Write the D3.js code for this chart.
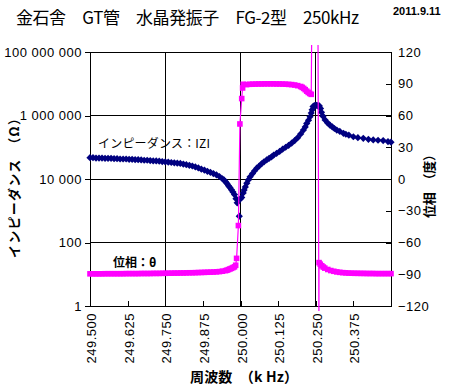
<!DOCTYPE html>
<html>
<head>
<meta charset="utf-8">
<script src="https://cdn.jsdelivr.net/npm/d3@7"></script>
<style>
  body { margin: 0; background: #fff; }
  text { font-family: "Liberation Sans", Arial, sans-serif; }
  .jp { font-family: "Noto Sans CJK JP", sans-serif; }
</style>
</head>
<body>
<div id="container"></div>
<script>
// impedance |Z| (ohm) vs frequency (kHz)
const freqZ = [
  249.50, 249.51, 249.52, 249.53, 249.54, 249.55, 249.56, 249.57, 249.58, 249.59,
  249.60, 249.61, 249.62, 249.63, 249.64, 249.65, 249.66, 249.67, 249.68, 249.69,
  249.70, 249.71, 249.72, 249.73, 249.74, 249.75, 249.76, 249.77, 249.78, 249.79,
  249.80, 249.81, 249.82, 249.83, 249.84, 249.85, 249.86, 249.87, 249.88, 249.89,
  249.90, 249.91, 249.92, 249.93, 249.94, 249.945, 249.95, 249.955, 249.96, 249.965,
  249.97, 249.975, 249.98, 249.985, 249.989, 249.996, 249.999, 250.004, 250.009, 250.012,
  250.016, 250.021, 250.026, 250.032, 250.04, 250.047, 250.054, 250.062, 250.07, 250.078,
  250.087, 250.095, 250.103, 250.11, 250.12, 250.13, 250.14, 250.15, 250.16, 250.17,
  250.18, 250.19, 250.20, 250.209, 250.215, 250.22, 250.226, 250.231, 250.235, 250.238,
  250.241, 250.245, 250.249, 250.253, 250.257, 250.262, 250.266, 250.269, 250.274, 250.281,
  250.289, 250.297, 250.305, 250.312, 250.32, 250.33, 250.342, 250.35, 250.36, 250.375,
  250.39, 250.408, 250.425, 250.441, 250.457, 250.474, 250.49, 250.50
];
const impedance = [
  4.68e4, 4.68e4, 4.57e4, 4.57e4, 4.57e4, 4.47e4, 4.47e4, 4.47e4, 4.37e4, 4.37e4,
  4.27e4, 4.27e4, 4.27e4, 4.17e4, 4.17e4, 4.07e4, 4.07e4, 3.98e4, 3.89e4, 3.89e4,
  3.80e4, 3.72e4, 3.72e4, 3.63e4, 3.55e4, 3.47e4, 3.39e4, 3.31e4, 3.24e4, 3.16e4,
  3.09e4, 2.95e4, 2.82e4, 2.69e4, 2.57e4, 2.40e4, 2.24e4, 2.04e4, 1.91e4, 1.74e4,
  1.62e4, 1.48e4, 1.35e4, 1.20e4, 1.02e4, 9.33e3, 8.32e3, 7.24e3, 6.17e3, 5.37e3,
  4.57e3, 3.89e3, 3.24e3, 2.40e3, 1.78e3, 6.76e2, 2.34e3, 2.63e3, 3.63e3, 4.47e3,
  5.62e3, 7.41e3, 9.33e3, 1.17e4, 1.48e4, 1.82e4, 2.19e4, 2.57e4, 3.02e4, 3.47e4,
  3.98e4, 4.47e4, 5.01e4, 5.62e4, 6.46e4, 7.41e4, 8.71e4, 1.00e5, 1.15e5, 1.35e5,
  1.62e5, 2.00e5, 2.63e5, 3.47e5, 4.37e5, 5.62e5, 7.08e5, 9.12e5, 1.20e6, 1.51e6,
  1.91e6, 2.04e6, 2.09e6, 2.09e6, 2.04e6, 2.00e6, 1.66e6, 1.26e6, 9.55e5, 7.24e5,
  5.89e5, 5.01e5, 4.37e5, 3.89e5, 3.47e5, 3.16e5, 2.75e5, 2.57e5, 2.40e5, 2.14e5,
  2.00e5, 1.91e5, 1.78e5, 1.70e5, 1.66e5, 1.62e5, 1.51e5, 1.45e5
];

// phase (deg) vs frequency (kHz)
const freqPhase = [
  249.50, 249.51, 249.52, 249.53, 249.54, 249.55, 249.56, 249.57, 249.58, 249.59,
  249.60, 249.61, 249.62, 249.63, 249.64, 249.65, 249.66, 249.67, 249.68, 249.69,
  249.70, 249.71, 249.72, 249.73, 249.74, 249.75, 249.76, 249.77, 249.78, 249.79,
  249.80, 249.81, 249.82, 249.83, 249.84, 249.85, 249.86, 249.87, 249.88, 249.89,
  249.90, 249.91, 249.92, 249.93, 249.94, 249.95, 249.955, 249.96, 249.965, 249.97,
  249.975, 249.98, 249.984, 249.987, 249.993, 249.998, 250.004, 250.007, 250.009, 250.02,
  250.03, 250.04, 250.05, 250.06, 250.07, 250.08, 250.09, 250.10, 250.11, 250.12,
  250.13, 250.14, 250.15, 250.16, 250.17, 250.18, 250.19, 250.20, 250.205, 250.21,
  250.215, 250.22, 250.225, 250.23, 250.235, 250.2365, 250.2575, 250.2605, 250.261, 250.265,
  250.27, 250.275, 250.28, 250.29, 250.30, 250.31, 250.32, 250.33, 250.34, 250.35,
  250.36, 250.37, 250.38, 250.39, 250.40, 250.41, 250.42, 250.43, 250.44, 250.45,
  250.46, 250.47, 250.48, 250.49, 250.50
];
const phase = [
  -89.6, -89.6, -89.6, -89.6, -89.6, -89.5, -89.5, -89.5, -89.5, -89.5,
  -89.5, -89.5, -89.4, -89.4, -89.4, -89.4, -89.4, -89.3, -89.3, -89.3,
  -89.3, -89.2, -89.2, -89.2, -89.1, -89.1, -89.0, -89.0, -88.9, -88.9,
  -88.8, -88.8, -88.7, -88.6, -88.6, -88.5, -88.4, -88.3, -88.2, -88.1,
  -88.0, -87.9, -87.7, -87.5, -87.1, -86.6, -86.2, -85.6, -85.0, -84.4,
  -83.7, -83.0, -81.5, -75, -44, 52, 76, 86, 89.5, 89.2,
  89.5, 89.6, 89.7, 89.8, 89.8, 89.9, 89.9, 89.9, 89.9, 89.8,
  89.8, 89.7, 89.6, 89.4, 89.2, 88.8, 88.2, 87.4, 86.6, 85.6,
  84.4, 83.0, 81.8, 80.8, 80.0, 135, 135, -135, -79, -80.5,
  -82, -83.2, -84.2, -85.5, -86.5, -87.2, -87.8, -88.2, -88.5, -88.7,
  -88.9, -89.0, -89.1, -89.1, -89.2, -89.2, -89.3, -89.3, -89.3, -89.4,
  -89.4, -89.4, -89.4, -89.4, -89.4
];

const zTicks = [1, 100, 10000, 1000000, 100000000];
const zTickLabels = ["1", "100", "10 000", "1 000 000", "100 000 000"];
const phaseTicks = [-120, -90, -60, -30, 0, 30, 60, 90, 120];
const freqTicks = [249.5, 249.625, 249.75, 249.875, 250.0, 250.125, 250.25, 250.375, 250.5];
const freqTickLabels = ["249.500", "249.625", "249.750", "249.875", "250.000", "250.125", "250.250", "250.375", ""];
const zGrid = [100, 10000, 1000000];
const freqGrid = [249.75, 250.0, 250.25];

const width = 450;
const height = 388;
const margin = { top: 52, right: 59, bottom: 82, left: 90 };

const svg = d3.select("#container").append("svg")
  .attr("width", width)
  .attr("height", height)
  .style("background", "#fff");

const x = d3.scaleLinear()
  .domain([249.5, 250.5])
  .range([margin.left, width - margin.right]);

const yZ = d3.scaleLog()
  .domain([1, 1e8])
  .range([height - margin.bottom, margin.top]);

const yP = d3.scaleLinear()
  .domain([-120, 120])
  .range([height - margin.bottom, margin.top]);

const x0 = margin.left, x1 = width - margin.right;
const y0 = margin.top, y1 = height - margin.bottom;

// grid lines
svg.append("g")
  .selectAll("line")
  .data(zGrid)
  .join("line")
  .attr("x1", x0).attr("x2", x1)
  .attr("y1", d => yZ(d)).attr("y2", d => yZ(d))
  .attr("stroke", "#000").attr("shape-rendering", "crispEdges");

svg.append("g")
  .selectAll("line")
  .data(freqGrid)
  .join("line")
  .attr("x1", d => x(d)).attr("x2", d => x(d))
  .attr("y1", y0).attr("y2", y1)
  .attr("stroke", "#000").attr("shape-rendering", "crispEdges");

svg.append("rect")
  .attr("x", x0).attr("y", y0)
  .attr("width", x1 - x0).attr("height", y1 - y0)
  .attr("fill", "none").attr("stroke", "#000")
  .attr("shape-rendering", "crispEdges");

// axes
const yAxisLeft = d3.axisLeft(yZ)
  .tickValues(zTicks)
  .tickSize(5)
  .tickPadding(3)
  .tickFormat((d, i) => zTickLabels[i]);
svg.append("g")
  .attr("transform", `translate(${x0},0)`)
  .call(yAxisLeft)
  .call(g => g.selectAll("text").attr("font-size", 13).attr("letter-spacing", 0.5)
    .attr("font-family", "Liberation Sans, Arial, sans-serif"));

const yAxisRight = d3.axisRight(yP)
  .tickValues(phaseTicks)
  .tickSize(-5)
  .tickPadding(7)
  .tickFormat(d => d < 0 ? "\u2212" + (-d) : d);
svg.append("g")
  .attr("transform", `translate(${x1},0)`)
  .call(yAxisRight)
  .call(g => g.selectAll("text").attr("font-size", 13).attr("letter-spacing", 0.5)
    .attr("font-family", "Liberation Sans, Arial, sans-serif"));

const xAxis = d3.axisBottom(x)
  .tickValues(freqTicks)
  .tickSize(-5)
  .tickFormat((d, i) => freqTickLabels[i]);
svg.append("g")
  .attr("transform", `translate(0,${y1})`)
  .call(xAxis)
  .call(g => g.selectAll("text")
    .attr("transform", "rotate(-90)")
    .attr("text-anchor", "end")
    .attr("x", -7)
    .attr("y", 1)
    .attr("dy", "0.35em")
    .attr("font-size", 13).attr("letter-spacing", 0.5)
    .attr("font-family", "Liberation Sans, Arial, sans-serif"));

svg.selectAll(".domain").attr("stroke", "#000");
svg.selectAll(".tick line").attr("stroke", "#000").attr("shape-rendering", "crispEdges");

// clip for phase series
svg.append("defs").append("clipPath").attr("id", "plot-clip")
  .append("rect")
  .attr("x", x0).attr("y", y0 - 7)
  .attr("width", x1 - x0).attr("height", y1 - y0 + 12);

svg.append("defs").append("clipPath").attr("id", "plot-clip-tight")
  .append("rect")
  .attr("x", x0 - 4).attr("y", y0)
  .attr("width", x1 - x0 + 8).attr("height", y1 - y0);

// impedance series (diamonds)
const zData = freqZ.map((f, i) => ({ f, z: impedance[i] }));
svg.append("g")
  .selectAll("path")
  .data(zData)
  .join("path")
  .attr("transform", d => `translate(${x(d.f)},${yZ(d.z)})`)
  .attr("d", "M0,-3.6L3.6,0L0,3.6L-3.6,0Z")
  .attr("fill", "#000080");

// phase series (line + squares)
const pData = freqPhase.map((f, i) => ({ f, p: phase[i] }));
const line = d3.line()
  .x(d => x(d.f))
  .y(d => yP(d.p));

svg.append("path")
  .datum(pData)
  .attr("clip-path", "url(#plot-clip)")
  .attr("fill", "none")
  .attr("stroke", "#ff00ff")
  .attr("stroke-width", 1.2)
  .attr("d", line);

svg.append("g")
  .attr("clip-path", "url(#plot-clip-tight)")
  .selectAll("rect")
  .data(pData)
  .join("rect")
  .attr("x", d => x(d.f) - 2.8)
  .attr("y", d => yP(d.p) - 2.8)
  .attr("width", 5.6)
  .attr("height", 5.6)
  .attr("fill", "#ff00ff");

// titles
svg.append("text")
  .attr("class", "jp")
  .attr("x", 16).attr("y", 24)
  .attr("font-size", 17)
  .attr("textLength", 343)
  .attr("lengthAdjust", "spacing")
  .text("金石舎　GT管　水晶発振子　FG-2型　250kHz");

svg.append("text")
  .attr("x", 393).attr("y", 15)
  .attr("font-size", 11)
  .attr("font-weight", "bold")
  .text("2011.9.11");

svg.append("text")
  .attr("class", "jp")
  .attr("transform", `translate(19,${(y0 + y1) / 2 + 6}) rotate(-90)`)
  .attr("text-anchor", "middle")
  .attr("font-size", 13)
  .attr("font-weight", "bold")
  .attr("textLength", 146)
  .attr("lengthAdjust", "spacing")
  .text("インピーダンス　（Ω）");

svg.append("text")
  .attr("class", "jp")
  .attr("transform", `translate(434,${(y0 + y1) / 2 + 4}) rotate(-90)`)
  .attr("text-anchor", "middle")
  .attr("font-size", 13)
  .attr("font-weight", "bold")
  .attr("textLength", 70)
  .attr("lengthAdjust", "spacing")
  .text("位相　（度）");

svg.append("text")
  .attr("class", "jp")
  .attr("x", 244).attr("y", 382)
  .attr("text-anchor", "middle")
  .attr("font-size", 14)
  .attr("font-weight", "bold")
  .attr("textLength", 108)
  .attr("lengthAdjust", "spacing")
  .text("周波数　（k Hz）");

// series labels
svg.append("text")
  .attr("class", "jp")
  .attr("x", 98).attr("y", 148)
  .attr("font-size", 12)
  .attr("textLength", 112)
  .attr("lengthAdjust", "spacing")
  .text("インピーダンス：IZI");

svg.append("text")
  .attr("class", "jp")
  .attr("x", 113).attr("y", 267)
  .attr("font-size", 12)
  .attr("font-weight", "bold")
  .text("位相：θ");
</script>
</body>
</html>
